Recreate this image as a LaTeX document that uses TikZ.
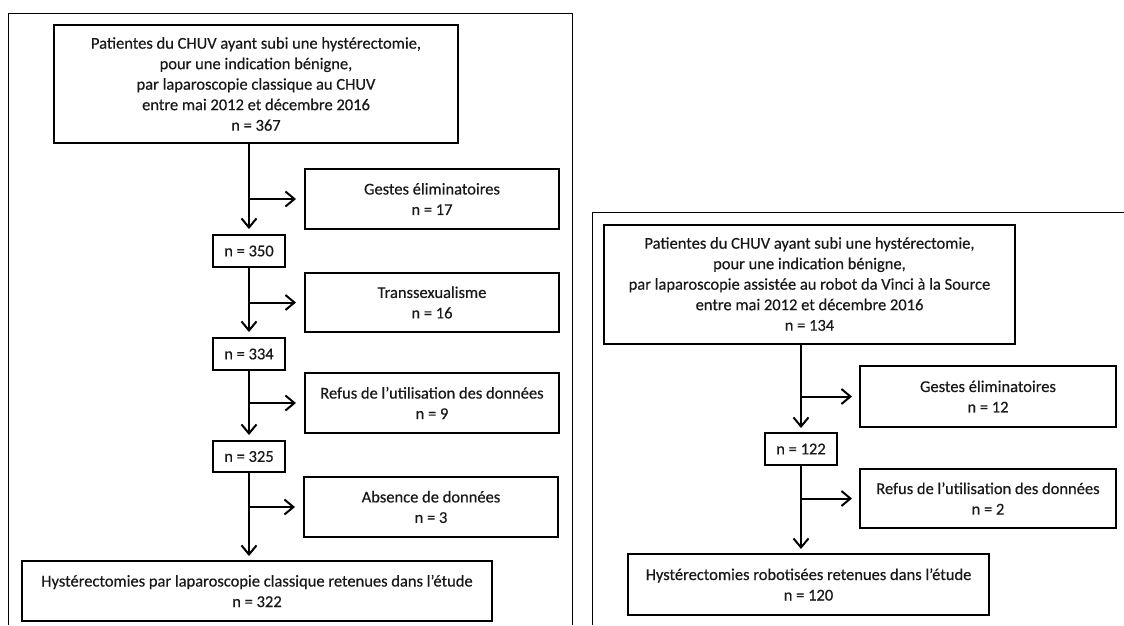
\documentclass[tikz,border=0pt]{standalone}
\usepackage{fontspec}
\setmainfont[FakeBold=0.4]{Carlito}
\usetikzlibrary{arrows.meta,calc}
\begin{document}
\begin{tikzpicture}[x=1pt,y=-1pt,
  box/.style={draw=black, line width=2pt, inner sep=0pt, align=center,
    font=\fontsize{16.5}{20.5}\selectfont, text=black!90},
  frame/.style={draw=black, line width=1pt},
  arr/.style={draw=black, line width=2pt, -{Straight Barb[length=9pt,width=15pt,line width=2pt]}}]
\useasboundingbox (0,0) rectangle (1124,625);
\fill[white] (0,0) rectangle (1124,625);
% frames
\draw[frame] (8,625) -- (8,13) -- (572,13) -- (572,625);
\draw[frame] (592,625) -- (592,212) -- (1124,212);
% left chart
\node[box, minimum width=404pt, minimum height=118pt] (top1) at (256,84)
  {Patientes du CHUV ayant subi une hystérectomie,\\pour une indication bénigne,\\par laparoscopie classique au CHUV\\entre mai 2012 et décembre 2016\\n = 367};
\node[box, minimum width=254pt, minimum height=60pt] (g1) at (432,199) {Gestes éliminatoires\\n = 17};
\node[box, minimum width=72pt, minimum height=32pt] (n350) at (249,251) {n = 350};
\node[box, minimum width=254pt, minimum height=59pt] (t1) at (432,302.5) {Transsexualisme\\n = 16};
\node[box, minimum width=72pt, minimum height=32pt] (n334) at (249,354) {n = 334};
\node[box, minimum width=254pt, minimum height=60pt] (r1) at (432,403) {Refus de l’utilisation des données\\n = 9};
\node[box, minimum width=72pt, minimum height=31pt] (n325) at (249,456.5) {n = 325};
\node[box, minimum width=254pt, minimum height=60pt] (a1) at (431,507) {Absence de données\\n = 3};
\node[box, minimum width=470pt, minimum height=60pt] (b1) at (257,591) {Hystérectomies par laparoscopie classique retenues dans l’étude\\n = 322};
\draw[arr, shorten >=5pt] (top1.south -| n350) -- (n350.north);
\draw[arr, shorten >=5pt] (n350.south) -- (n334.north);
\draw[arr, shorten >=5pt] (n334.south) -- (n325.north);
\draw[arr, shorten >=4pt] (n325.south) -- (b1.north -| n325);
\draw[arr, shorten >=8pt] (g1.west -| n350) -- (g1.west);
\draw[arr, shorten >=8pt] (t1.west -| n350) -- (t1.west);
\draw[arr, shorten >=8pt] (r1.west -| n350) -- (r1.west);
\draw[arr, shorten >=8pt] (a1.west -| n350) -- (a1.west);
% right chart
\node[box, minimum width=411pt, minimum height=119pt] (top2) at (809.5,284)
  {Patientes du CHUV ayant subi une hystérectomie,\\pour une indication bénigne,\\par laparoscopie assistée au robot da Vinci à la Source\\entre mai 2012 et décembre 2016\\n = 134};
\node[box, minimum width=256pt, minimum height=61pt] (g2) at (988,396.5) {Gestes éliminatoires\\n = 12};
\node[box, minimum width=72pt, minimum height=32pt] (n122) at (801,449) {n = 122};
\node[box, minimum width=256pt, minimum height=59pt] (r2) at (988,498.5) {Refus de l’utilisation des données\\n = 2};
\node[box, minimum width=361pt, minimum height=61pt] (b2) at (808.5,584.5) {Hystérectomies robotisées retenues dans l’étude\\n = 120};
\draw[arr, shorten >=4pt] (top2.south -| n122) -- (n122.north);
\draw[arr, shorten >=4pt] (n122.south) -- (b2.north -| n122);
\draw[arr, shorten >=7pt] (g2.west -| n122) -- (g2.west);
\draw[arr, shorten >=7pt] (r2.west -| n122) -- (r2.west);
\end{tikzpicture}
\end{document}
